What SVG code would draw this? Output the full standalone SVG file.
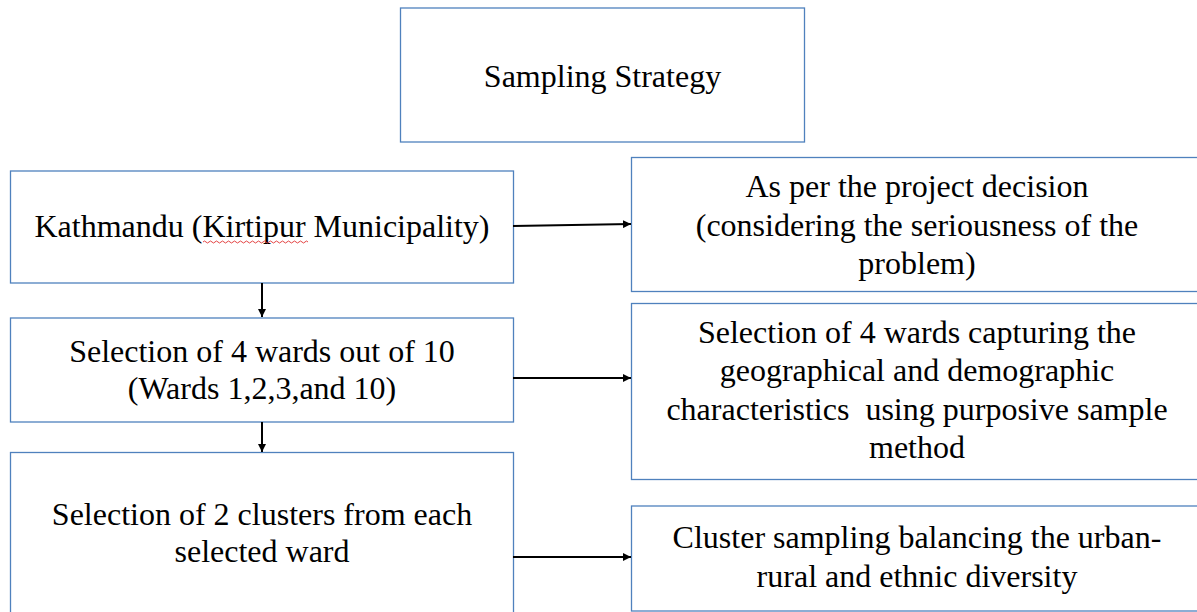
<svg xmlns="http://www.w3.org/2000/svg" width="1197" height="612" viewBox="0 0 1197 612">
<style>
.box{fill:#ffffff;stroke:#4f81bd;stroke-width:1.3}
.t{font-family:"Liberation Serif",Tinos,"Times New Roman","DejaVu Serif",serif;font-size:32px;fill:#000;text-anchor:middle;white-space:pre}
.c{stroke:#000;stroke-width:2;fill:none}
</style>
<defs>
<marker id="ah" viewBox="0 0 10 10" refX="10" refY="5" markerWidth="4" markerHeight="4" orient="auto" markerUnits="strokeWidth">
<path d="M0,0 L10,5 L0,10 z" fill="#000"/>
</marker>
</defs>
<rect width="1197" height="612" fill="#fff"/>
<g id="title">
<rect class="box" x="400.5" y="8" width="404" height="134"/>
<text class="t" x="602.5" y="87" font-family="Liberation Serif, serif">Sampling Strategy</text>
</g>
<g id="kathmandu">
<rect class="box" x="10.5" y="171" width="503" height="112"/>
<text class="t" x="262" y="237" font-family="Liberation Serif, serif">Kathmandu (Kirtipur Municipality)</text>
<path d="M203,242 q1.5,-2 3,0 t3,0 t3,0 t3,0 t3,0 t3,0 t3,0 t3,0 t3,0 t3,0 t3,0 t3,0 t3,0 t3,0 t3,0 t3,0 t3,0 t3,0 t3,0 t3,0 t3,0 t3,0 t3,0 t3,0 t3,0 t3,0 t3,0 t3,0 t3,0 t3,0 t3,0 t3,0 t3,0 t3,0 t3,0" fill="none" stroke="#e03030" stroke-width="0.9"/>
</g>
<g id="wards">
<rect class="box" x="10.5" y="318" width="503" height="104"/>
<text class="t" x="262" y="362" font-family="Liberation Serif, serif">Selection of 4 wards out of 10</text>
<text class="t" x="262" y="399" font-family="Liberation Serif, serif">(Wards 1,2,3,and 10)</text>
</g>
<g id="clusters">
<rect class="box" x="10.5" y="452.5" width="503" height="170"/>
<text class="t" x="262" y="525" font-family="Liberation Serif, serif">Selection of 2 clusters from each</text>
<text class="t" x="262" y="562" font-family="Liberation Serif, serif">selected ward</text>
</g>
<g id="project">
<rect class="box" x="631.5" y="157.5" width="572" height="134"/>
<text class="t" x="917" y="197" font-family="Liberation Serif, serif">As per the project decision</text>
<text class="t" x="917" y="236" font-family="Liberation Serif, serif">(considering the seriousness of the</text>
<text class="t" x="917" y="274" font-family="Liberation Serif, serif">problem)</text>
</g>
<g id="purposive">
<rect class="box" x="631.5" y="303.5" width="572" height="176"/>
<text class="t" x="917" y="343" font-family="Liberation Serif, serif">Selection of 4 wards capturing the</text>
<text class="t" x="917" y="381" font-family="Liberation Serif, serif">geographical and demographic</text>
<text class="t" x="917" y="420" font-family="Liberation Serif, serif">characteristics  using purposive sample</text>
<text class="t" x="917" y="458" font-family="Liberation Serif, serif">method</text>
</g>
<g id="cluster-sampling">
<rect class="box" x="631.5" y="506" width="572" height="105"/>
<text class="t" x="917" y="548" font-family="Liberation Serif, serif">Cluster sampling balancing the urban-</text>
<text class="t" x="917" y="587" font-family="Liberation Serif, serif">rural and ethnic diversity</text>
</g>
<g id="connectors">
<line class="c" x1="513" y1="226" x2="631" y2="224" marker-end="url(#ah)"/>
<line class="c" x1="513" y1="378" x2="631" y2="378" marker-end="url(#ah)"/>
<line class="c" x1="513" y1="557" x2="631" y2="557" marker-end="url(#ah)"/>
<line class="c" x1="262" y1="283" x2="262" y2="317" marker-end="url(#ah)"/>
<line class="c" x1="262" y1="422" x2="262" y2="452" marker-end="url(#ah)"/>
</g>
</svg>
